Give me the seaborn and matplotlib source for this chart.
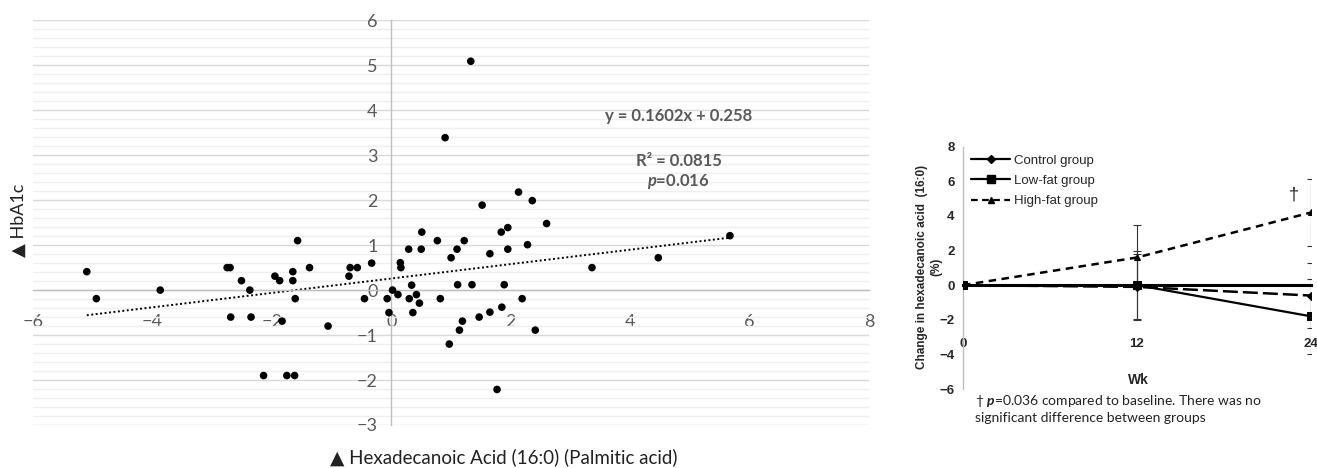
import numpy as np
import pandas as pd
import matplotlib
matplotlib.use("Agg")
import matplotlib.pyplot as plt
from matplotlib.lines import Line2D
from matplotlib.ticker import MultipleLocator
import seaborn as sns

# scatter: change in palmitic acid vs change in HbA1c
palmitic = [-5.10, -4.94, -3.87, -2.75, -2.70, -2.69, -2.51, -2.37, -2.35, -2.14,
            -1.95, -1.87, -1.83, -1.75, -1.65, -1.65, -1.62, -1.61, -1.57, -1.37,
            -1.06, -0.71, -0.69, -0.57, -0.45, -0.33, -0.07, -0.04, 0.02, 0.11,
            0.15, 0.16, 0.29, 0.30, 0.34, 0.36, 0.42, 0.47, 0.50, 0.51,
            0.77, 0.82, 0.97, 1.00, 1.10, 1.22, 1.11, 1.35, 1.14, 1.19,
            1.47, 1.65, 1.65, 1.77, 1.84, 1.95, 1.95, 1.85, 1.89, 2.19,
            2.28, 2.41, 2.60, 3.36, 4.47, 5.67, 1.33, 0.90, 2.13, 1.52, 2.36]
hba1c = [0.41, -0.19, 0.00, 0.50, 0.50, -0.60, 0.21, 0.00, -0.60, -1.90,
         0.31, 0.21, -0.69, -1.90, 0.41, 0.21, -1.90, -0.19, 1.10, 0.50,
         -0.80, 0.31, 0.50, 0.50, -0.19, 0.60, -0.19, -0.50, 0.00, -0.10,
         0.61, 0.50, 0.91, -0.19, 0.11, -0.50, -0.10, -0.29, 0.91, 1.29,
         1.10, -0.19, -1.20, 0.72, 0.91, 1.10, 0.12, 0.12, -0.89, -0.69,
         -0.60, 0.81, -0.49, -2.21, 1.29, 1.39, 0.91, -0.38, 0.12, -0.19,
         1.01, -0.89, 1.48, 0.50, 0.72, 1.21, 5.09, 3.39, 2.18, 1.89, 1.99]
slope, intercept = 0.1602, 0.258

# line chart: change over weeks by group
weeks = [0, 12, 24]
control = [0.0, -0.1, -0.6]
control_err = [0.0, 1.9, 1.9]
lowfat = [0.0, 0.0, -1.8]
lowfat_err = [0.0, 1.95, 2.15]
highfat = [0.0, 1.6, 4.2]
highfat_err = [0.0, 1.85, 1.95]

sns.set_theme(style="white")
plt.rcParams["font.family"] = ["Lato", "DejaVu Sans"]
plt.rcParams["mathtext.fontset"] = "custom"
plt.rcParams["mathtext.it"] = "Lato:bold:italic"
plt.rcParams["mathtext.rm"] = "Lato"

fig = plt.figure(figsize=(13.17, 4.68), dpi=100)

# ---------- left panel ----------
ax = fig.add_axes([0.0251, 0.0919, 0.6348, 0.8647])
sns.scatterplot(x=palmitic, y=hba1c, ax=ax, color="black", s=30, edgecolor="none", zorder=3)
xs = np.array([min(palmitic), max(palmitic)])
ax.plot(xs, slope * xs + intercept, color="black", ls=(0, (1, 1.3)), lw=1.4, zorder=2)

ax.set_xlim(-6, 8)
ax.set_ylim(-3, 6)
ax.xaxis.set_major_locator(MultipleLocator(2))
ax.yaxis.set_major_locator(MultipleLocator(1))
ax.yaxis.set_minor_locator(MultipleLocator(0.2))
ax.grid(axis="y", which="major", color="#d9d9d9", lw=1.0)
ax.grid(axis="y", which="minor", color="#efefef", lw=1.0)
ax.grid(axis="x", visible=False)
ax.set_axisbelow(True)
for s in ["top", "right"]:
    ax.spines[s].set_visible(False)
ax.spines["left"].set_position(("data", 0))
ax.spines["bottom"].set_position(("data", 0))
for s in ["left", "bottom"]:
    ax.spines[s].set_color("#bfbfbf")
    ax.spines[s].set_linewidth(1.0)
ax.tick_params(axis="x", which="major", direction="out", length=5, width=1,
               color="#bfbfbf", pad=12, labelsize=13, labelcolor="#595959")
ax.tick_params(axis="y", which="major", direction="out", length=5, width=1,
               color="#bfbfbf", pad=5, labelsize=13, labelcolor="#595959")
ax.tick_params(axis="y", which="minor", length=0)

ax.text(4.81, 3.87, "y = 0.1602x + 0.258", ha="center", va="center",
        fontsize=12, fontweight="bold", color="#595959")
ax.text(4.81, 2.88, "R² = 0.0815", ha="center", va="center",
        fontsize=12, fontweight="bold", color="#595959")
ax.text(4.81, 2.41, "$\\mathit{p}$=0.016", ha="center", va="center",
        fontsize=12, fontweight="bold", color="#595959")

fig.text(504 / 1317, 11 / 468, "▲ Hexadecanoic Acid (16:0) (Palmitic acid)",
         ha="center", va="center", fontsize=13.5, color="#222222",
         family=["Lato", "DejaVu Sans"])
fig.text(19 / 1317, 248 / 468, "▲ HbA1c", ha="center", va="center", rotation=90,
         fontsize=13, color="#222222", family=["Lato", "DejaVu Sans"])

# ---------- right panel ----------
ax2 = fig.add_axes([0.7312, 0.1688, 0.2642, 0.5177])
df = pd.DataFrame({"week": weeks, "control": control, "lowfat": lowfat, "highfat": highfat})
sns.lineplot(data=df, x="week", y="control", ax=ax2, color="black", lw=1.8,
             marker="D", markersize=4.5, markeredgecolor="black", zorder=3)
ax2.lines[-1].set_linestyle((0, (6, 2)))
sns.lineplot(data=df, x="week", y="lowfat", ax=ax2, color="black", lw=1.6,
             marker="s", markersize=5.5, markeredgecolor="black", zorder=3)
sns.lineplot(data=df, x="week", y="highfat", ax=ax2, color="black", lw=1.8,
             marker="^", markersize=5, markeredgecolor="black", zorder=3)
ax2.lines[-1].set_linestyle((0, (3, 2.2)))
# baseline has no error bars
for vals, errs in [(control, control_err), (lowfat, lowfat_err), (highfat, highfat_err)]:
    ax2.errorbar(weeks[1:], vals[1:], yerr=errs[1:], fmt="none", ecolor="#333333",
                 elinewidth=0.8, capsize=3, capthick=0.8, zorder=2)

ax2.set_xlim(0, 24)
ax2.set_ylim(-6, 8)
ax2.set_xticks(weeks)
ax2.set_yticks([-6, -4, -2, 0, 2, 4, 6, 8])
ax2.set_xlabel("")
ax2.set_ylabel("")
for s in ["top", "right"]:
    ax2.spines[s].set_visible(False)
ax2.spines["left"].set_color("#bfbfbf")
ax2.spines["left"].set_linewidth(1.0)
ax2.spines["bottom"].set_position(("data", 0))
ax2.spines["bottom"].set_color("black")
ax2.spines["bottom"].set_linewidth(2.2)
ax2.tick_params(axis="y", direction="out", length=3, width=1, color="#bfbfbf", pad=3)
ax2.tick_params(axis="x", length=0, pad=38)
for lab in ax2.get_yticklabels():
    lab.set_fontweight("bold")
    lab.set_fontsize(9.5)
    lab.set_family("Liberation Sans")
for lab in ax2.get_xticklabels():
    lab.set_fontweight("bold")
    lab.set_fontsize(9.5)
    lab.set_family("Liberation Sans")

ax2.text(22.8, 5.2, "†", ha="center", va="center", fontsize=13,
         family=["Liberation Sans", "DejaVu Sans"])

handles = [
    Line2D([], [], color="black", lw=1.6, marker="D", markersize=4),
    Line2D([], [], color="black", lw=1.6, marker="s", markersize=5.5),
    Line2D([], [], color="black", lw=1.6, ls=(0, (3, 2)), marker="^", markersize=4.5),
]
ax2.legend(handles, ["Control group", "Low-fat group", "High-fat group"],
           loc="upper left", bbox_to_anchor=(0.0, 1.0), frameon=False,
           prop={"family": "Liberation Sans", "size": 9.5},
           handlelength=3.0, handletextpad=0.3, labelspacing=0.6, borderaxespad=0.2)

fig.text(929 / 1317, 201 / 468, "Change in hexadecanoic acid  (16:0)\n(%)",
         rotation=90, ha="center", va="center", fontsize=8.5, fontweight="bold",
         family="Liberation Sans", multialignment="center", linespacing=1.2)
fig.text(1138 / 1317, 88 / 468, "Wk", ha="center", va="center", fontsize=10,
         fontweight="bold", family="Liberation Sans")
fig.text(975 / 1317, 75 / 468,
         "† $\\mathit{p}$=0.036 compared to baseline. There was no\nsignificant difference between groups",
         ha="left", va="top", fontsize=10, color="#222222", linespacing=1.3,
         family=["Lato", "DejaVu Sans"])

fig.savefig("out.png", dpi=100)
